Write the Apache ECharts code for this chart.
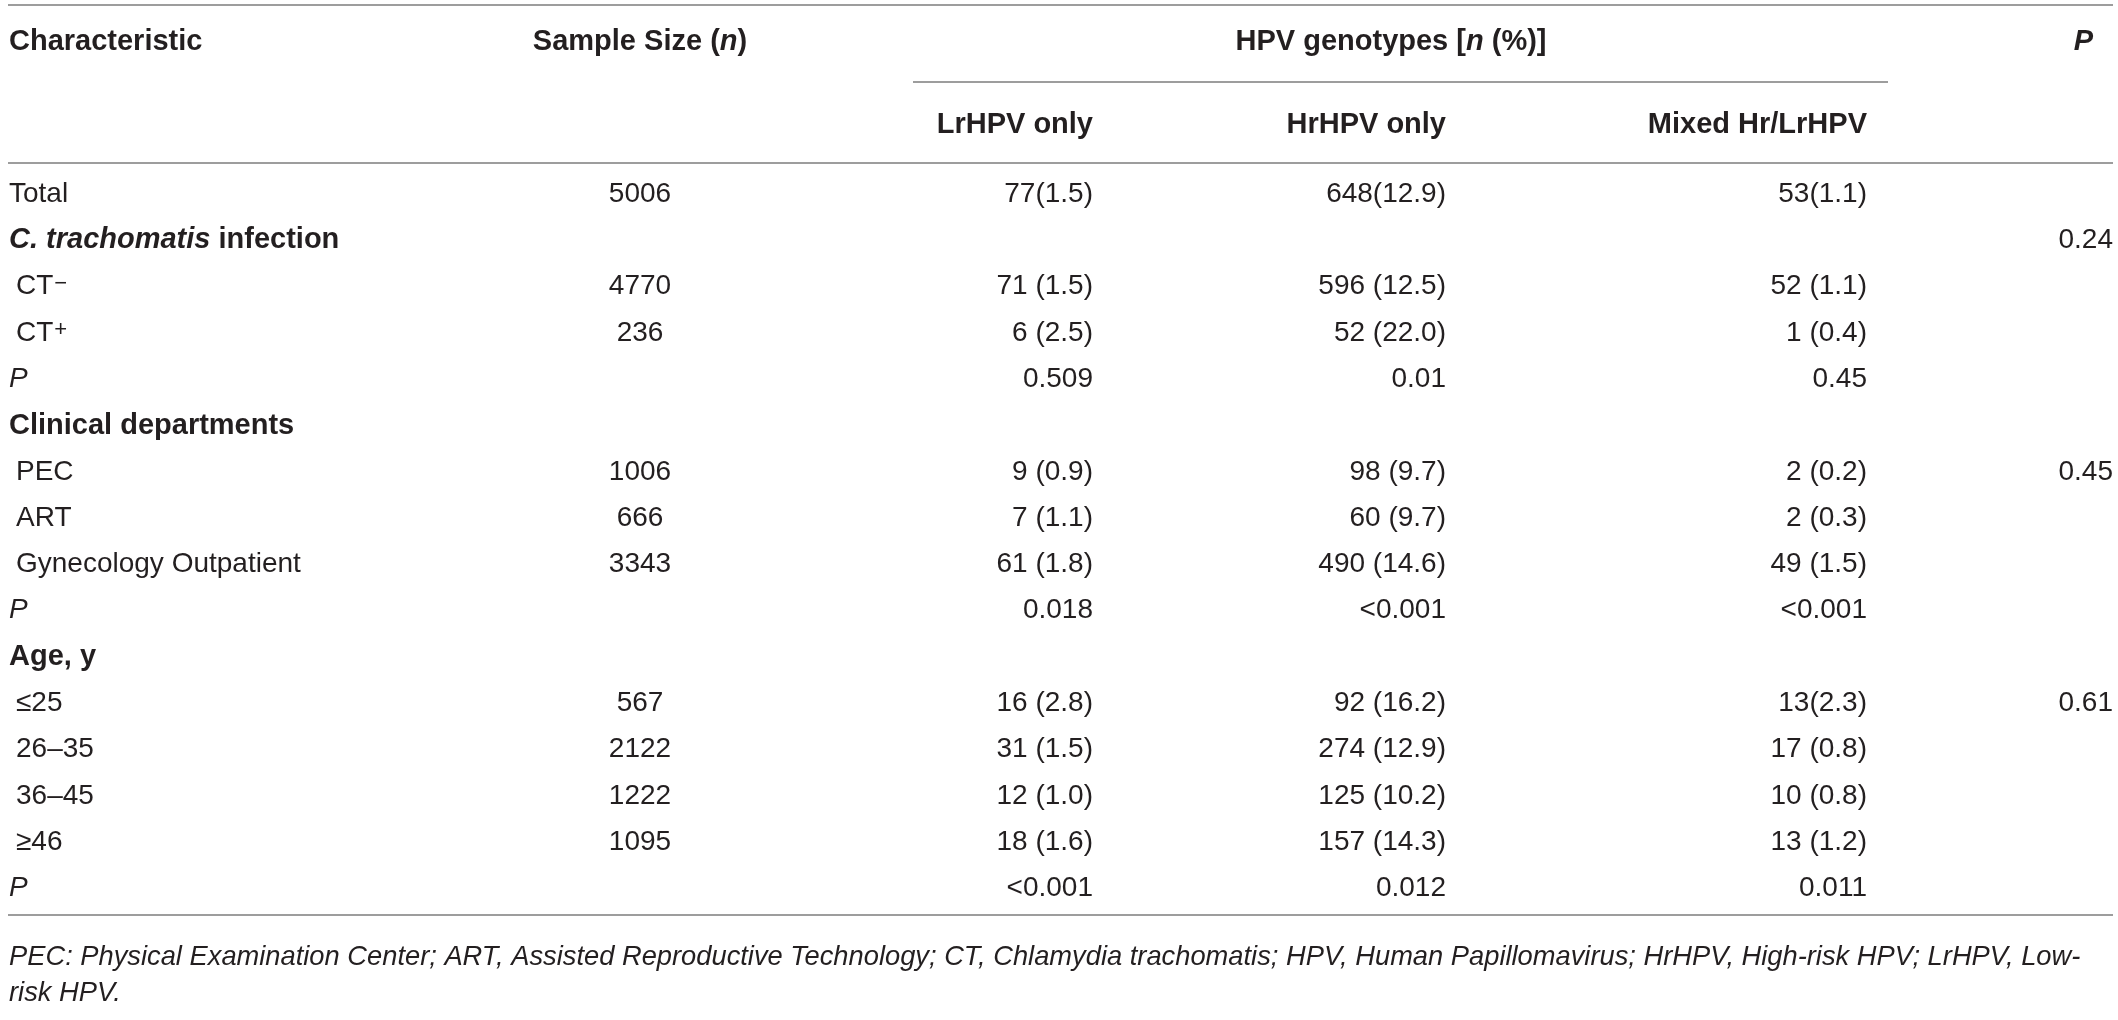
<!DOCTYPE html>
<html>
<head>
<meta charset="utf-8">
<script src="https://cdn.jsdelivr.net/npm/echarts@6/dist/echarts.min.js"></script>
<style>
html,body{margin:0;padding:0;background:#ffffff;}
#chart{width:2118px;height:1020px;}
</style>
</head>
<body>
<div id="chart"></div>
<script>
// ---------------- data ----------------
const rowLabels = ['Total', 'C. trachomatis infection', 'CT−', 'CT+', 'P',
  'Clinical departments', 'PEC', 'ART', 'Gynecology Outpatient', 'P',
  'Age, y', '≤25', '26–35', '36–45', '≥46', 'P'];
const rowKinds = ['plain', 'section', 'sub', 'sub', 'p',
  'section', 'sub', 'sub', 'sub', 'p',
  'section', 'sub', 'sub', 'sub', 'sub', 'p'];
const sampleSize = ['5006', '', '4770', '236', '', '', '1006', '666', '3343', '', '', '567', '2122', '1222', '1095', ''];
const lrHPV = ['77(1.5)', '', '71 (1.5)', '6 (2.5)', '0.509', '', '9 (0.9)', '7 (1.1)', '61 (1.8)', '0.018', '', '16 (2.8)', '31 (1.5)', '12 (1.0)', '18 (1.6)', '<0.001'];
const hrHPV = ['648(12.9)', '', '596 (12.5)', '52 (22.0)', '0.01', '', '98 (9.7)', '60 (9.7)', '490 (14.6)', '<0.001', '', '92 (16.2)', '274 (12.9)', '125 (10.2)', '157 (14.3)', '0.012'];
const mixedHPV = ['53(1.1)', '', '52 (1.1)', '1 (0.4)', '0.45', '', '2 (0.2)', '2 (0.3)', '49 (1.5)', '<0.001', '', '13(2.3)', '17 (0.8)', '10 (0.8)', '13 (1.2)', '0.011'];
const pOverall = ['', '0.24', '', '', '', '', '0.45', '', '', '', '', '0.61', '', '', '', ''];
const headerTop = ['Characteristic', 'Sample Size (n)', 'HPV genotypes [n (%)]', 'P'];
const headerSub = ['LrHPV only', 'HrHPV only', 'Mixed Hr/LrHPV'];
const footnoteLines = [
  'PEC: Physical Examination Center; ART, Assisted Reproductive Technology; CT, Chlamydia trachomatis; HPV, Human Papillomavirus; HrHPV, High-risk HPV; LrHPV, Low-',
  'risk HPV.'
];

// ---------------- style / layout ----------------
const FONT = '"Liberation Sans", Arial, Helvetica, "DejaVu Sans", sans-serif';
const FS = 28, FSB = 29, FSN = 27.3;
const INK = '#231f20';
const RULE = '#7d7d7d';
const COL = { label: 9, sub: 16, sample: 640, lr: 1093, hr: 1446, mixed: 1867, p: 2113 };
const ROW0 = 194, ROWSTEP = 46.3;

function tok(weight, style, size) {
  return { fontFamily: FONT, fontSize: size || FS, fontWeight: weight, fontStyle: style, fill: INK };
}
const RICH = {
  r: tok('normal', 'normal'),
  i: tok('normal', 'italic'),
  fn: tok('normal', 'italic', FSN),
  b: tok('bold', 'normal', FSB),
  bi: tok('bold', 'italic', FSB),
  sup: Object.assign(tok('normal', 'normal', 22), { verticalAlign: 'top', padding: [0, 0, 0, 1] })
};

function labelRich(i) {
  const l = rowLabels[i], k = rowKinds[i];
  if (k === 'section') {
    const m = l.match(/^(C\. trachomatis)(.*)$/);
    if (m) return '{bi|' + m[1] + '}{b|' + m[2] + '}';
    return '{b|' + l + '}';
  }
  if (k === 'p') return '{i|' + l + '}';
  if (/^CT[−+]$/.test(l)) return '{r|CT}{sup|' + l.slice(2) + '}';
  return '{r|' + l + '}';
}

function txt(x, y, text, align, rich) {
  return {
    type: 'text', x: x, y: y, silent: true,
    style: rich ? { text: text, rich: RICH, align: align, verticalAlign: 'middle', fill: INK }
                : { text: text, fontFamily: FONT, fontSize: FS, fill: INK, align: align, verticalAlign: 'middle' }
  };
}

function renderRow(params, api) {
  const i = params.dataIndex;
  const y = api.coord([0, i])[1];
  const X = function (px) { return api.coord([px, i])[0]; };
  const kids = [];
  const lx = rowKinds[i] === 'sub' ? COL.sub : COL.label;
  kids.push(txt(X(lx), y, labelRich(i), 'left', true));
  if (sampleSize[i]) kids.push(txt(X(COL.sample), y, sampleSize[i], 'center'));
  if (lrHPV[i]) kids.push(txt(X(COL.lr), y, lrHPV[i], 'right'));
  if (hrHPV[i]) kids.push(txt(X(COL.hr), y, hrHPV[i], 'right'));
  if (mixedHPV[i]) kids.push(txt(X(COL.mixed), y, mixedHPV[i], 'right'));
  if (pOverall[i]) kids.push(txt(X(COL.p), y, pOverall[i], 'right'));
  return { type: 'group', children: kids };
}

function hline(x1, x2, y) {
  return { type: 'line', silent: true, shape: { x1: x1, y1: y, x2: x2, y2: y },
           style: { stroke: RULE, lineWidth: 1.6 } };
}
function gtext(x, y, text, align) {
  return { type: 'text', x: x, y: y, silent: true,
           style: { text: text, rich: RICH, align: align, verticalAlign: 'middle', fill: INK } };
}
function boldItalicN(s) {
  return s.split(/(\bn\b)/).map(function (p) { return p === 'n' ? '{bi|n}' : (p ? '{b|' + p + '}' : ''); }).join('');
}

const gridTop = ROW0 - ROWSTEP / 2;
const gridH = ROWSTEP * rowLabels.length;

const chart = echarts.init(document.getElementById('chart'), null, { renderer: 'canvas' });
chart.setOption({
  animation: false,
  backgroundColor: '#ffffff',
  grid: { left: 0, right: 0, top: gridTop, height: gridH },
  xAxis: { type: 'value', min: 0, max: 2118, show: false },
  yAxis: { type: 'category', data: rowLabels, inverse: true, show: false },
  series: [{
    type: 'custom',
    renderItem: renderRow,
    encode: { x: 0, y: 1 },
    data: rowLabels.map(function (l, i) { return [0, i]; }),
    clip: false
  }],
  graphic: { elements: [
    hline(8, 2113, 5),
    hline(913, 1888, 82),
    hline(8, 2113, 163),
    hline(8, 2113, 915),
    gtext(COL.label, 42, '{b|' + headerTop[0] + '}', 'left'),
    gtext(COL.sample, 42, boldItalicN(headerTop[1]), 'center'),
    gtext(1391, 42, boldItalicN(headerTop[2]), 'center'),
    gtext(2093, 42, '{bi|' + headerTop[3] + '}', 'right'),
    gtext(COL.lr, 125, '{b|' + headerSub[0] + '}', 'right'),
    gtext(COL.hr, 125, '{b|' + headerSub[1] + '}', 'right'),
    gtext(COL.mixed, 125, '{b|' + headerSub[2] + '}', 'right'),
    gtext(COL.label, 957, '{fn|' + footnoteLines[0] + '}', 'left'),
    gtext(COL.label, 993, '{fn|' + footnoteLines[1] + '}', 'left')
  ]}
});
</script>
</body>
</html>
